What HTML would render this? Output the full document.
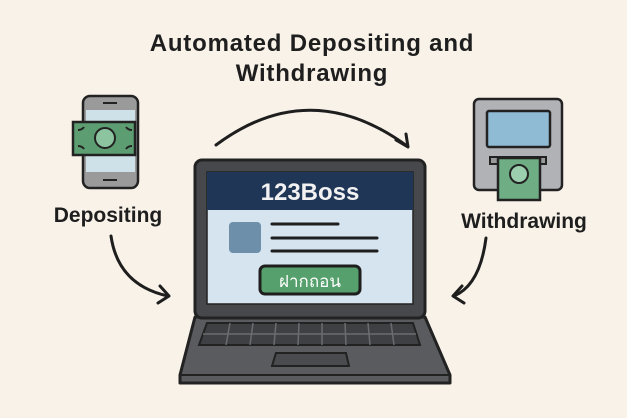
<!DOCTYPE html>
<html><head><meta charset="utf-8"><style>
html,body{margin:0;padding:0;width:627px;height:418px;overflow:hidden;background:#f8f2e8;}
svg{display:block}
</style></head><body>
<svg width="627" height="418" viewBox="0 0 627 418" xmlns="http://www.w3.org/2000/svg">
<rect width="627" height="418" fill="#f8f2e8"/>
<g font-family="Liberation Sans, sans-serif" font-weight="bold" fill="#1e1e1e" text-anchor="middle">
<text x="312" y="51" font-size="24" letter-spacing="0.8">Automated Depositing and</text>
<text x="312" y="81" font-size="24" letter-spacing="0.8">Withdrawing</text>
<text x="108" y="222" font-size="21">Depositing</text>
<text x="524" y="228" font-size="21">Withdrawing</text>
</g>
<g fill="none" stroke="#1e1e1e" stroke-width="3" stroke-linecap="round" stroke-linejoin="round">
<path d="M216 145 Q310 75 407 146"/>
<path d="M396 140 L408 147 L406 134"/>
<path d="M111 236 Q118 285 168 296"/>
<path d="M160 286 L169 296 L158 303"/>
<path d="M486 238 Q480 285 454 296"/>
<path d="M462 286 L453 296 L464 303"/>
</g>
<rect x="83" y="96" width="55" height="92" rx="7" fill="#9a9a9a" stroke="#222" stroke-width="2.5"/>
<rect x="86" y="110" width="49" height="62" fill="#cfe1e8"/>
<line x1="103" y1="103" x2="117" y2="103" stroke="#222" stroke-width="2"/>
<line x1="103" y1="180" x2="117" y2="180" stroke="#222" stroke-width="2"/>
<rect x="73" y="122" width="62" height="33" fill="#5c9e72" stroke="#222" stroke-width="2.5"/>
<circle cx="105" cy="138" r="10" fill="#8cc4a0" stroke="#222" stroke-width="2"/>
<g stroke="#222" stroke-width="2" fill="none"><path d="M78 130 q4 0 6 -3"/><path d="M78 146 q4 0 6 3"/><path d="M132 130 q-4 0 -6 -3"/><path d="M132 146 q-4 0 -6 3"/></g>
<rect x="474" y="99" width="88" height="91" rx="5" fill="#b1b2b6" stroke="#222" stroke-width="2.5"/>
<rect x="487" y="111" width="63" height="36" rx="2" fill="#8fbcd4" stroke="#222" stroke-width="2.5"/>
<rect x="490" y="157" width="56" height="7" fill="#999" stroke="#222" stroke-width="2"/>
<rect x="498" y="158" width="42" height="42" fill="#6fae84" stroke="#222" stroke-width="2.5"/>
<circle cx="519" cy="174" r="9" fill="#9ccfae" stroke="#222" stroke-width="2"/>
<path d="M195 317 L425 317 L450 375 L450 383 L180 383 L180 375 Z" fill="#5a5b5e" stroke="#222" stroke-width="3" stroke-linejoin="round"/>
<line x1="181" y1="375" x2="449" y2="375" stroke="#222" stroke-width="2"/>
<rect x="195" y="160" width="230" height="158" rx="7" fill="#47484b" stroke="#222" stroke-width="3"/>
<rect x="207" y="172" width="206" height="132" fill="#d5e4ee" stroke="#222" stroke-width="1.5"/>
<rect x="207" y="172" width="206" height="38" fill="#1f3656"/>
<text x="310" y="200" font-family="Liberation Sans, sans-serif" font-weight="bold" font-size="24" fill="#f2f2f2" text-anchor="middle">123Boss</text>
<rect x="229" y="222" width="32" height="31" rx="4" fill="#6e8faa"/>
<g stroke="#1e1e1e" stroke-width="3" stroke-linecap="round"><line x1="272" y1="224" x2="338" y2="224"/><line x1="272" y1="238" x2="377" y2="238"/><line x1="272" y1="251" x2="377" y2="251"/></g>
<rect x="260" y="266" width="100" height="28" rx="5" fill="#55a06c" stroke="#1e1e1e" stroke-width="3"/>
<text x="310" y="287" font-family="Liberation Sans, DejaVu Sans, sans-serif" font-size="17" fill="#fff" text-anchor="middle">ฝากถอน</text>
<path d="M207 323 L413 323 L420 345 L199 345 Z" fill="#3f4043" stroke="#222" stroke-width="2"/>
<g stroke="#6b6c70" stroke-width="1.5">
<line x1="203" y1="334" x2="416" y2="334"/>
<line x1="230" y1="323" x2="226" y2="345"/><line x1="253" y1="323" x2="250" y2="345"/><line x1="276" y1="323" x2="274" y2="345"/><line x1="299" y1="323" x2="298" y2="345"/><line x1="322" y1="323" x2="322" y2="345"/><line x1="345" y1="323" x2="346" y2="345"/><line x1="368" y1="323" x2="370" y2="345"/><line x1="391" y1="323" x2="394" y2="345"/>
</g>
<path d="M276 353 L346 353 L349 366 L272 366 Z" fill="#4a4b4e" stroke="#222" stroke-width="2"/>
</svg>
</body></html>
